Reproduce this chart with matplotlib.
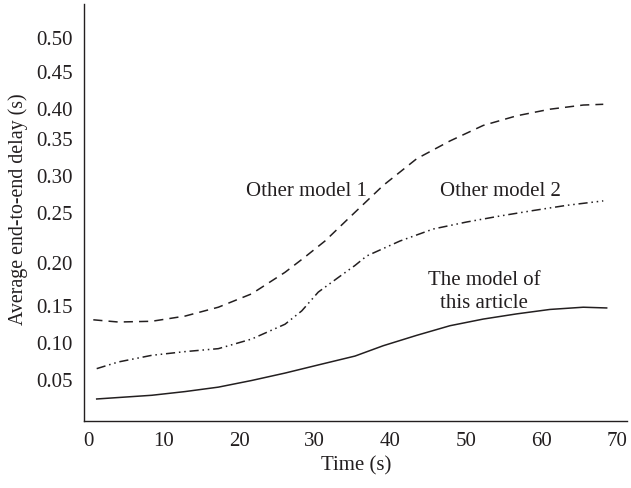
import matplotlib
matplotlib.use('Agg')
import matplotlib.pyplot as plt
import numpy as np

# data (time in s, delay in s)
t_this = [1.15, 8.43, 12.83, 17.24, 21.65, 26.06, 30.46, 35.32, 39.06, 43.48, 47.88,
          52.29, 56.71, 61.11, 65.52, 68.61]
d_this = [0.023, 0.028, 0.033, 0.039, 0.048, 0.058, 0.069, 0.081, 0.095, 0.109, 0.122,
          0.131, 0.138, 0.144, 0.147, 0.146]

t_m1 = [0.70, 4.01, 8.43, 12.83, 17.24, 21.65, 26.06, 28.70, 31.35, 34.66, 39.06,
        43.48, 47.88, 52.29, 56.71, 61.11, 65.52, 68.16]
d_m1 = [0.130, 0.127, 0.128, 0.135, 0.147, 0.163, 0.188, 0.205, 0.221, 0.245, 0.286,
        0.322, 0.346, 0.371, 0.387, 0.398, 0.404, 0.405]

t_m2 = [1.15, 4.01, 8.43, 12.83, 17.24, 21.65, 26.06, 28.27, 30.46, 33.11, 35.32,
        36.86, 41.27, 45.67, 50.09, 54.50, 58.90, 63.32, 68.16]
d_m2 = [0.064, 0.073, 0.082, 0.087, 0.091, 0.104, 0.124, 0.142, 0.165, 0.182, 0.196,
        0.206, 0.221, 0.233, 0.240, 0.246, 0.252, 0.259, 0.265]

x_ticks = [0, 10, 20, 30, 40, 50, 60, 70]
y_ticks = [0.05, 0.10, 0.15, 0.20, 0.25, 0.30, 0.35, 0.40, 0.45, 0.50]
y_ticklabels = ['0.05', '0.10', '0.15', '0.20', '0.25', '0.30', '0.35', '0.40', '0.45', '0.50']

# the original y axis is not evenly spaced; reproduce it with a piecewise scale
anchor_v = np.array([-0.05, 0.05, 0.10, 0.15, 0.20, 0.25, 0.30, 0.35, 0.40, 0.45, 0.50, 0.60])
anchor_p = -np.array([454, 380, 343, 306, 263, 213, 176, 139, 109, 72, 38, -30], dtype=float)

def fwd(v):
    return np.interp(v, anchor_v, anchor_p)

def inv(p):
    return np.interp(p, anchor_p, anchor_v)

ink = '#231f20'
plt.rcParams['font.family'] = ['Liberation Serif', 'DejaVu Serif']
plt.rcParams['font.size'] = 15

W, H = 631, 489
fig = plt.figure(figsize=(W / 100, H / 100), dpi=100)
ax = fig.add_axes([84 / W, 1 - 422 / H, (627 - 84) / W, (422 - 5) / H])
ax.set_yscale('function', functions=(fwd, inv))

ax.plot(t_this, d_this, color=ink, lw=1.1, ls='-')
ax.plot(t_m1, d_m1, color=ink, lw=1.1, ls=(0, (6, 4)))
ax.plot(t_m2, d_m2, color=ink, lw=1.1, ls=(0, (6, 2.5, 1, 2.5, 1, 2.5)))

ax.set_xlim(-0.53, 71.3)
ax.set_ylim(inv(-422), inv(-5))
ax.set_xticks(x_ticks)
ax.set_yticks(y_ticks)
ax.set_yticklabels(y_ticklabels)
ax.yaxis.set_minor_locator(matplotlib.ticker.NullLocator())
ax.tick_params(length=0, colors=ink, labelsize=15)
ax.tick_params(axis='y', pad=8)
ax.tick_params(axis='x', pad=7)
for s in ['top', 'right']:
    ax.spines[s].set_visible(False)
for s in ['left', 'bottom']:
    ax.spines[s].set_color(ink)
    ax.spines[s].set_linewidth(1.0)

def fx(x):
    return x / W

def fy(y):
    return 1 - y / H

fig.text(fx(18), fy(209), 'Average end-to-end delay (s)', rotation=90, ha='center', va='center',
         color=ink, fontsize=14.3)
fig.text(fx(356), fy(466), 'Time (s)', ha='center', va='center', color=ink)
fig.text(fx(306), fy(191), 'Other model 1', ha='center', va='center', color=ink)
fig.text(fx(500), fy(191), 'Other model 2', ha='center', va='center', color=ink)
fig.text(fx(484), fy(292), 'The model of\nthis article', ha='center', va='center', color=ink,
         linespacing=1.3)

fig.savefig('out.png', dpi=100)
